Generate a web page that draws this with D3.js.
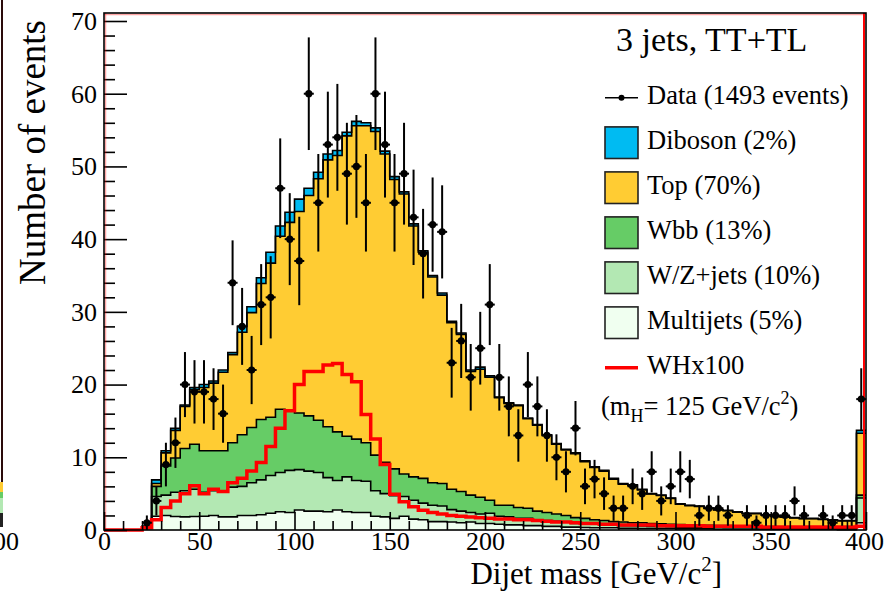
<!DOCTYPE html>
<html>
<head>
<meta charset="utf-8">
<script src="https://cdn.jsdelivr.net/npm/d3@7"></script>
<style>
  body { margin: 0; background: #fff; }
  svg { display: block; font-family: "Liberation Serif", "Times New Roman", serif; }
</style>
</head>
<body>
<svg id="chart" width="890" height="591"></svg>
<script>
// 80 bins of 5 GeV, last bin holds overflow
const binWidth = 5;

const multijets = [0,0,0,0,0.2, 1.9,2.0,1.85,1.8,1.85, 1.9,2.0,1.8,1.8,2.0, 2.0,2.1,2.3,2.5,2.4,
  2.75,2.6,2.6,2.5,2.75, 2.5,2.4,2.4,1.9,1.8, 1.6,1.9,1.5,1.4,1.15, 1.15,1.1,1.0,1.1,0.9,
  0.9,0.8,0.7,0.7,0.6, 0.6,0.5,0.5,0.4,0.4, 0.35,0.3,0.3,0.3,0.25, 0.25,0.2,0.2,0.2,0.2,
  0.15,0.15,0.15,0.15,0.1, 0.1,0.1,0.1,0.1,0.1, 0.1,0.1,0.1,0.1,0.1, 0.1,0.1,0.05,0.05,1.0];
const wzjets = [0,0,0,0,0.15, 2.7,2.8,3.35,3.6,3.75, 3.3,3.4,3.5,4.1,4.0, 4.5,4.8,5.2,5.4,5.8,
  5.55,5.5,5.3,4.7,4.05, 4.8,4.4,4.3,3.5,3.2, 3.1,2.7,2.6,2.3,2.25, 2.15,1.7,1.6,1.3,1.3,
  1.4,1.1,1.1,0.9,1.0, 0.8,0.8,0.7,0.7,0.5, 0.55,0.5,0.4,0.4,0.35, 0.35,0.35,0.3,0.3,0.25,
  0.25,0.25,0.25,0.2,0.25, 0.2,0.2,0.2,0.2,0.15, 0.15,0.15,0.1,0.1,0.1, 0.1,0.1,0.15,0.15,3.4];
const wbb = [0,0,0,0,0.1, 1.4,4.0,4.7,5.8,6.2, 5.7,5.5,5.6,6.1,7.1, 7.6,8.3,8.0,8.7,8.2,
  7.8,7.6,7.2,7.0,6.7, 5.6,5.7,5.3,4.9,4.3, 3.7,3.1,3.2,3.4,3.1, 3.1,2.8,2.7,2.4,2.3,
  1.8,1.5,1.6,1.5,1.4, 1.2,1.1,1.0,0.9,0.8, 0.7,0.6,0.6,0.45,0.5, 0.4,0.45,0.4,0.35,0.35,
  0.35,0.3,0.3,0.3,0.25, 0.3,0.25,0.2,0.2,0.2, 0.2,0.15,0.2,0.2,0.15, 0.15,0.15,0.1,0.1,0.4];
const topQuark = [0,0,0,0,0.05, 0.4,1.8,3.8,5.8,7.5, 8.7,9.3,10.8,12.1,14.1, 15.8,18.7,21.2,23.8,25.9,
  27.7,30.3,33.2,36.7,38.0, 41.3,43.1,43.6,44.5,42.4, 39.8,38.5,34.5,31.1,28.3, 25.9,22.9,21.6,17.0,17.6,
  16.9,14.8,14.0,14.0,12.3, 11.8,10.6,9.6,9.0,8.8, 7.8,7.2,6.8,5.85,5.2, 5.1,4.5,4.05,3.9,3.55,
  2.8,2.65,2.55,2.3,2.15, 2.05,1.9,1.75,1.75,1.6, 1.4,1.35,1.25,1.15,1.2, 1.1,1.0,0.95,0.95,8.5];
const diboson = [0,0,0,0,0, 0.5,0.3,0.3,0.2,0.3, 0.4,0.3,0.3,0.3,0.8, 0.8,0.8,1.5,1.4,1.4,
  1.7,1.0,0.9,0.8,0.7, 0.5,0.6,0.4,0.5,0.4, 0.4,0.3,0.3,0.2,0.2, 0.3,0.2,0.2,0.2,0.3,
  0.2,0.1,0.1,0.1,0.1, 0.1,0.1,0.1,0.1,0.1, 0.1,0.1,0.1,0.1,0.1, 0.1,0.1,0.05,0.05,0.05,
  0.05,0.05,0.05,0.05,0.05, 0.05,0.05,0.05,0.05,0.05, 0.05,0.05,0.05,0.05,0.05, 0.05,0.05,0.05,0.05,0.4];
const whx100 = [0,0,0,0,0.3, 1.4,3.1,4.0,5.0,6.1, 5.0,5.6,5.3,6.5,7.1, 8.1,9.3,11.5,14.0,16.4,
  20.0,21.8,21.8,22.7,22.9, 21.4,20.4,15.9,12.5,9.0, 4.9,3.9,3.2,2.7,2.4, 2.2,2.0,1.9,1.8,1.7,
  1.6,1.5,1.5,1.4,1.4, 1.3,1.2,1.1,1.1,1.0, 0.9,0.9,0.8,0.8,0.7, 0.7,0.7,0.7,0.6,0.6,
  0.6,0.6,0.6,0.5,0.5, 0.5,0.5,0.5,0.5,0.4, 0.4,0.4,0.4,0.4,0.4, 0.4,0.4,0.4,0.4,0.5];
const dataCounts = [0,0,0,0,1, 4,9,12,20,19, 19,18,16,34,28, 22,31,32,47,40,
  37,60,45,53,54, 49,50,45,60,53, 45,49,43,38,42, 41,23,26,21,25,
  31,21,17,13,20, 17,13,10,8,14, 6,7,5,3,3, 6,5,8,4,6,
  8,7,2,3,3, 2,0,2,1,2, 2,2,4,2,0, 2,1,2,2,18];

const xTicks = [0, 50, 100, 150, 200, 250, 300, 350, 400];
const yTicks = [0, 10, 20, 30, 40, 50, 60, 70];
const legendLabels = ["Data (1493 events)", "Diboson (2%)", "Top (70%)", "Wbb (13%)",
  "W/Z+jets (10%)", "Multijets (5%)", "WHx100"];

const svg = d3.select("#chart");
const plot = { left: 104, right: 866, top: 13, bottom: 530 };

const x = d3.scaleLinear().domain([0, 400]).range([plot.left, plot.right]);
const y = d3.scaleLinear().domain([0, 70]).range([plot.bottom, 21]);

// stack the backgrounds, one row per bin low edge plus a closing edge
const keys = ["multijets", "wzjets", "wbb", "topQuark", "diboson"];
const colors = { diboson: "#00bbf2", topQuark: "#ffcc33", wbb: "#66cc66", wzjets: "#b3e8b3", multijets: "#f0fff0" };
const rows = multijets.map((d, i) => ({
  lo: i * binWidth, multijets: d, wzjets: wzjets[i], wbb: wbb[i], topQuark: topQuark[i], diboson: diboson[i], wh: whx100[i]
}));
rows.push({ ...rows[rows.length - 1], lo: rows.length * binWidth });
const series = d3.stack().keys(keys)(rows);

const area = d3.area().curve(d3.curveStepAfter)
  .x((d) => x(d.data.lo)).y0((d) => y(d[0])).y1((d) => y(d[1]));
const outline = d3.line().curve(d3.curveStepAfter)
  .x((d) => x(d.data.lo)).y((d) => y(d[1]));

// clipped neighbour pad at the far left
svg.append("line").attr("x1", 2).attr("x2", 2).attr("y1", 0).attr("y2", 527)
  .attr("stroke", "#2a0a0a").attr("stroke-width", 2);
svg.append("rect").attr("x", 0).attr("y", 482).attr("width", 3).attr("height", 10).attr("fill", colors.topQuark);
svg.append("rect").attr("x", 0).attr("y", 492).attr("width", 3).attr("height", 6).attr("fill", colors.wbb);
svg.append("rect").attr("x", 0).attr("y", 498).attr("width", 3).attr("height", 15).attr("fill", colors.wzjets);
svg.append("rect").attr("x", 0).attr("y", 513).attr("width", 3).attr("height", 14).attr("fill", "#222");
svg.append("text").attr("x", 19).attr("y", 550).attr("text-anchor", "end")
  .attr("font-size", 26).text("400");

// fills
svg.append("g").selectAll("path").data(series).enter().append("path")
  .attr("d", area).attr("fill", (s) => colors[s.key]);

// black outlines of each stacked histogram
svg.append("g").selectAll("path").data(series).enter().append("path")
  .attr("d", outline).attr("fill", "none").attr("stroke", "#000").attr("stroke-width", 1.6);

// signal x100
const whLine = d3.line().curve(d3.curveStepAfter).x((d) => x(d.lo)).y((d) => y(d.wh));
svg.append("path").datum(rows).attr("d", whLine)
  .attr("fill", "none").attr("stroke", "#ff0000").attr("stroke-width", 3.5);

// axes, ticks drawn inward like ROOT
const yMinor = d3.range(0, 71, 2).filter((v) => v % 10 !== 0);
const xMinor = d3.range(0, 401, 10).filter((v) => v % 50 !== 0);

const yAxis = svg.append("g").attr("transform", `translate(${plot.left},0)`)
  .call(d3.axisLeft(y).tickValues(yTicks).tickSize(-23).tickPadding(7));
const yAxisMinor = svg.append("g").attr("transform", `translate(${plot.left},0)`)
  .call(d3.axisLeft(y).tickValues(yMinor).tickSize(-11).tickFormat(""));
const xAxis = svg.append("g").attr("transform", `translate(0,${plot.bottom})`)
  .call(d3.axisBottom(x).tickValues(xTicks).tickSize(-18).tickPadding(1.5));
const xAxisMinor = svg.append("g").attr("transform", `translate(0,${plot.bottom})`)
  .call(d3.axisBottom(x).tickValues(xMinor).tickSize(-9).tickFormat(""));

[yAxis, yAxisMinor, xAxis, xAxisMinor].forEach((g) => {
  g.select(".domain").remove();
  g.selectAll(".tick line").attr("stroke", "#000").attr("stroke-width", 1.6);
  g.selectAll(".tick text").attr("font-family", "Liberation Serif").attr("font-size", 26).attr("fill", "#000");
});
xAxis.selectAll(".tick text").filter((d) => d === 400).attr("dx", "-2");

// frame, with the thin red line of the pad inside
svg.append("line").attr("x1", plot.left + 1.5).attr("x2", plot.left + 1.5).attr("y1", plot.top).attr("y2", plot.bottom)
  .attr("stroke", "#ff0000").attr("stroke-opacity", 0.35).attr("stroke-width", 1.5);
svg.append("line").attr("x1", plot.left).attr("x2", plot.right).attr("y1", plot.top + 1.5).attr("y2", plot.top + 1.5)
  .attr("stroke", "#ff0000").attr("stroke-opacity", 0.35).attr("stroke-width", 1.5);
svg.append("line").attr("x1", plot.right - 2).attr("x2", plot.right - 2).attr("y1", plot.top).attr("y2", plot.bottom)
  .attr("stroke", "#ff0000").attr("stroke-width", 2);
svg.append("rect").attr("x", plot.left).attr("y", plot.top)
  .attr("width", plot.right - plot.left).attr("height", plot.bottom - plot.top)
  .attr("fill", "none").attr("stroke", "#000").attr("stroke-width", 1.6);

// data points with poisson errors
const points = dataCounts.map((n, i) => ({ c: i * binWidth + binWidth / 2, n })).filter((d) => d.n > 0);
const pts = svg.append("g").selectAll("g").data(points).enter().append("g");
pts.append("line")
  .attr("x1", (d) => x(d.c)).attr("x2", (d) => x(d.c))
  .attr("y1", (d) => y(d.n - Math.sqrt(d.n))).attr("y2", (d) => y(d.n + Math.sqrt(d.n)))
  .attr("stroke", "#000").attr("stroke-width", 2);
pts.append("line")
  .attr("x1", (d) => x(d.c) - 5).attr("x2", (d) => x(d.c) + 5)
  .attr("y1", (d) => y(d.n)).attr("y2", (d) => y(d.n))
  .attr("stroke", "#000").attr("stroke-width", 2);
pts.append("circle").attr("cx", (d) => x(d.c)).attr("cy", (d) => y(d.n)).attr("r", 3.6).attr("fill", "#000");

// axis titles
svg.append("text").attr("transform", "translate(45,20) rotate(-90)")
  .attr("text-anchor", "end").attr("font-size", 37).text("Number of events");
const xt = svg.append("text").attr("x", 722).attr("y", 583.5).attr("text-anchor", "end").attr("font-size", 31);
xt.append("tspan").text("Dijet mass [GeV/c");
xt.append("tspan").attr("font-size", 21).attr("dy", -13).text("2");
xt.append("tspan").attr("dy", 13).text("]");

// legend
svg.append("text").attr("x", 616).attr("y", 51).attr("font-size", 34).text("3 jets, TT+TL");
const legendKeys = ["data", "diboson", "topQuark", "wbb", "wzjets", "multijets", "wh"];
const legend = svg.selectAll(".legend").data(legendKeys).enter().append("g")
  .attr("class", "legend")
  .attr("transform", (d, i) => `translate(605, ${97.7 + i * 45})`);
legend.filter((d) => colors[d]).append("rect")
  .attr("x", 0).attr("y", -15.8).attr("width", 33).attr("height", 31.6)
  .attr("fill", (d) => colors[d]).attr("stroke", "#222").attr("stroke-width", 1.6);
legend.filter((d) => d === "data").append("line")
  .attr("x1", 0).attr("x2", 33).attr("y1", 0).attr("y2", 0).attr("stroke", "#000").attr("stroke-width", 1.6);
legend.filter((d) => d === "data").append("circle").attr("cx", 16.5).attr("cy", 0).attr("r", 3).attr("fill", "#000");
legend.filter((d) => d === "wh").append("line")
  .attr("x1", 0).attr("x2", 33).attr("y1", 0).attr("y2", 0).attr("stroke", "#ff0000").attr("stroke-width", 3.5);
legend.append("text").attr("x", 42).attr("y", 5.8).attr("font-size", 26.5)
  .text((d, i) => legendLabels[i]);

const mh = svg.append("text").attr("x", 601).attr("y", 415).attr("font-size", 26.5);
mh.append("tspan").text("(m");
mh.append("tspan").attr("font-size", 18).attr("dy", 7).text("H");
mh.append("tspan").attr("dy", -7).text("= 125 GeV/c");
mh.append("tspan").attr("font-size", 18).attr("dy", -11).text("2");
mh.append("tspan").attr("dy", 11).text(")");
</script>
</body>
</html>
